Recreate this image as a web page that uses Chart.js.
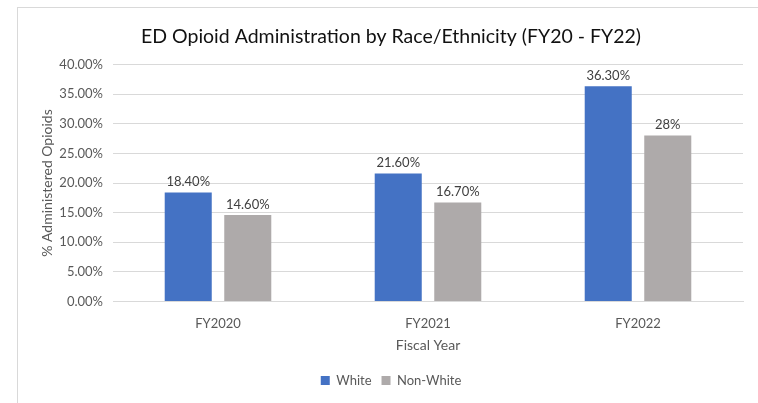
<!DOCTYPE html>
<html>
<head>
<meta charset="utf-8">
<script src="https://cdn.jsdelivr.net/npm/chart.js@4.4.1/dist/chart.umd.min.js"></script>
<style>
  html, body { margin: 0; padding: 0; background: #fff; }
  #wrap { position: relative; width: 758px; height: 403px; }
  #frame { position: absolute; left: 17px; top: 7px; right: -2px; bottom: -2px; border: 1px solid #d9d9d9; }
  canvas { position: absolute; left: 0; top: 0; }
</style>
</head>
<body>
<div id="wrap">
  <div id="frame"></div>
  <canvas id="opioidChart" width="758" height="403"></canvas>
</div>
<script>
const years = ['FY2020', 'FY2021', 'FY2022'];
const whiteRates = [18.4, 21.6, 36.3];
const nonWhiteRates = [14.6, 16.7, 28];
const whiteLabels = ['18.40%', '21.60%', '36.30%'];
const nonWhiteLabels = ['14.60%', '16.70%', '28%'];

const FONT = 'Lato';
const TEXT = '#595959';

// value text above each bar
const barLabels = {
    id: 'barLabels',
    afterDatasetsDraw(chart) {
        const c = chart.ctx;
        c.save();
        c.font = '13px ' + FONT;
        c.fillStyle = '#404040';
        c.textAlign = 'center';
        c.textBaseline = 'bottom';
        chart.data.datasets.forEach((ds, i) => {
            chart.getDatasetMeta(i).data.forEach((bar, j) => {
                c.fillText(ds.valueLabels[j], bar.x, bar.y - 4);
            });
        });
        c.restore();
    }
};

new Chart(document.getElementById('opioidChart'), {
    type: 'bar',
    data: {
        labels: years,
        datasets: [
            {
                label: 'White',
                data: whiteRates,
                valueLabels: whiteLabels,
                backgroundColor: '#4472c4',
                categoryPercentage: 0.567,
                barPercentage: 0.79,
            },
            {
                label: 'Non-White',
                data: nonWhiteRates,
                valueLabels: nonWhiteLabels,
                backgroundColor: '#aeaaaa',
                categoryPercentage: 0.567,
                barPercentage: 0.79,
            },
        ],
    },
    plugins: [barLabels],
    options: {
        responsive: false,
        animation: false,
        layout: {
            padding: { left: 39, right: 15, top: 25, bottom: 6 },
        },
        plugins: {
            title: {
                display: true,
                // ZWNJ keeps "ti" from forming a ligature
                text: 'ED Opioid Administ\u200Cration by Race/Ethnicity (FY20 - FY22)',
                color: '#111',
                font: { family: FONT, size: 19.5, weight: 'normal' },
                padding: { top: 0, bottom: 16 },
            },
            legend: {
                position: 'bottom',
                labels: {
                    color: TEXT,
                    font: { family: FONT, size: 13 },
                    boxWidth: 9,
                    boxHeight: 9,
                    padding: 10,
                },
            },
            tooltip: { enabled: false },
        },
        scales: {
            x: {
                grid: { display: false },
                border: { color: '#d9d9d9' },
                ticks: { color: TEXT, font: { family: FONT, size: 13 }, padding: 6 },
                title: {
                    display: true,
                    text: 'Fiscal Year',
                    color: TEXT,
                    font: { family: FONT, size: 14 },
                    padding: { top: 0, bottom: 10 },
                },
            },
            y: {
                min: 0,
                max: 40,
                afterFit: scale => { scale.width = 74; },
                ticks: {
                    stepSize: 5,
                    color: TEXT,
                    font: { family: FONT, size: 13 },
                    padding: 10,
                    callback: v => v.toFixed(2) + '%',
                },
                grid: { color: '#d9d9d9', drawTicks: false },
                border: { display: false },
                title: {
                    display: true,
                    text: '% Administered Opioids',
                    color: TEXT,
                    font: { family: FONT, size: 14 },
                    padding: { top: 0, bottom: 0 },
                },
            },
        },
    },
});
</script>
</body>
</html>
